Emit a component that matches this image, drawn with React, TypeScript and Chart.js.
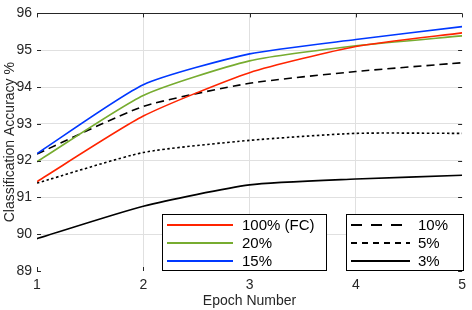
import React, { useEffect, useRef } from "react";
import { Chart, registerables } from "chart.js";

Chart.register(...registerables);

const epochs = [1, 2, 3, 4, 5];
const fc100 = [91.43, 93.21, 94.39, 95.1, 95.47];
const p20 = [91.97, 93.77, 94.71, 95.12, 95.39];
const p15 = [92.19, 94.06, 94.9, 95.29, 95.64];
const p10 = [92.18, 93.47, 94.1, 94.42, 94.66];
const p5 = [91.39, 92.22, 92.55, 92.74, 92.74];
const p3 = [89.88, 90.76, 91.34, 91.5, 91.6];
const yTicks = [89, 90, 91, 92, 93, 94, 95, 96];
const xTicks = [1, 2, 3, 4, 5];

const FONT = "'Liberation Sans', Arial, Helvetica, sans-serif";
const TXT = "#262626";

type Ser = { label: string; data: number[]; color: string; dash: number[]; legendDash: number[] };
const series: Ser[] = [
  { label: "100% (FC)", data: fc100, color: "#ff2400", dash: [], legendDash: [] },
  { label: "20%", data: p20, color: "#77ac30", dash: [], legendDash: [] },
  { label: "15%", data: p15, color: "#0038ff", dash: [], legendDash: [] },
  { label: "10%", data: p10, color: "#000000", dash: [8, 5], legendDash: [11, 9] },
  { label: "5%", data: p5, color: "#000000", dash: [2.5, 2.5], legendDash: [6, 5] },
  { label: "3%", data: p3, color: "#000000", dash: [], legendDash: [] },
];

const decorPlugin = {
  id: "decor",
  afterDraw(chart: any) {
    const ctx = chart.ctx as CanvasRenderingContext2D;
    const a = chart.chartArea;
    const xs = chart.scales.x;
    const ys = chart.scales.y;
    ctx.save();
    ctx.strokeStyle = TXT;
    ctx.lineWidth = 1;
    ctx.setLineDash([]);
    ctx.beginPath();
    ctx.moveTo(a.left, Math.round(a.top) + 0.5);
    ctx.lineTo(a.right, Math.round(a.top) + 0.5);
    ctx.stroke();
    const tl = 4;
    ctx.beginPath();
    xTicks.forEach((v) => {
      const px = Math.round(xs.getPixelForValue(v)) + 0.5;
      ctx.moveTo(px, a.top);
      ctx.lineTo(px, a.top + tl);
      ctx.moveTo(px, a.bottom);
      ctx.lineTo(px, a.bottom - tl);
    });
    yTicks.forEach((v) => {
      const py = Math.round(ys.getPixelForValue(v)) + 0.5;
      ctx.moveTo(a.left, py);
      ctx.lineTo(a.left + tl, py);
      ctx.moveTo(a.right, py);
      ctx.lineTo(a.right - tl, py);
    });
    ctx.stroke();

    const boxes = [
      { x0: a.left + 125, x1: a.left + 289, lx0: a.left + 130, lx1: a.left + 196, tx: a.left + 205, items: series.slice(0, 3) },
      { x0: a.left + 309, x1: a.left + 426, lx0: a.left + 314, lx1: a.left + 373, tx: a.left + 381, items: series.slice(3, 6) },
    ];
    const bTop = a.bottom - 57;
    boxes.forEach((b) => {
      ctx.fillStyle = "#ffffff";
      ctx.fillRect(b.x0, bTop, b.x1 - b.x0, a.bottom - bTop);
      ctx.strokeStyle = "#000000";
      ctx.lineWidth = 1;
      ctx.setLineDash([]);
      ctx.strokeRect(Math.round(b.x0) + 0.5, Math.round(bTop) + 0.5, b.x1 - b.x0, a.bottom - bTop - 1);
      b.items.forEach((s, i) => {
        const y = bTop + 11 + i * 18;
        ctx.strokeStyle = s.color;
        ctx.lineWidth = 2;
        ctx.setLineDash(s.legendDash);
        ctx.beginPath();
        ctx.moveTo(b.lx0, y);
        ctx.lineTo(b.lx1, y);
        ctx.stroke();
        ctx.setLineDash([]);
        ctx.fillStyle = "#000000";
        ctx.font = `15px ${FONT}`;
        ctx.textBaseline = "middle";
        ctx.textAlign = "left";
        ctx.fillText(s.label, b.tx, y + 1);
      });
    });
    ctx.restore();
  },
};

export default function App() {
  const ref = useRef<HTMLCanvasElement>(null);
  useEffect(() => {
    if (!ref.current) return;
    const chart = new Chart(ref.current, {
      type: "line",
      data: {
        datasets: series.map((s) => ({
          label: s.label,
          data: s.data.map((v, i) => ({ x: epochs[i], y: v })),
          borderColor: s.color,
          backgroundColor: s.color,
          borderWidth: 1.6,
          borderDash: s.dash,
          pointRadius: 0,
          tension: 0.2,
          fill: false,
        })),
      },
      options: {
        animation: false,
        responsive: true,
        maintainAspectRatio: false,
        layout: { padding: { top: 8, right: 4, left: 2, bottom: 0 } },
        plugins: { legend: { display: false }, tooltip: { enabled: false } },
        scales: {
          x: {
            type: "linear",
            min: 1,
            max: 5,
            afterFit: (s: any) => { s.height = 39; },
            afterBuildTicks: (s: any) => { s.ticks = xTicks.map((v) => ({ value: v })); },
            border: { display: false },
            grid: {
              drawTicks: false,
              color: (c: any) => (c.tick && (c.tick.value === 1 || c.tick.value === 5) ? "rgba(0,0,0,0)" : "#e0e0e0"),
            },
            ticks: { color: TXT, font: { family: FONT, size: 14 }, padding: 6, maxRotation: 0 },
            title: { display: true, text: "Epoch Number", color: TXT, font: { family: FONT, size: 14 }, padding: { top: 0, bottom: 0 } },
          },
          y: {
            min: 89,
            max: 96,
            afterFit: (s: any) => { s.width = 35; },
            afterBuildTicks: (s: any) => { s.ticks = yTicks.map((v) => ({ value: v })); },
            border: { display: false },
            grid: {
              drawTicks: false,
              color: (c: any) => (c.tick && (c.tick.value === 89 || c.tick.value === 96) ? "rgba(0,0,0,0)" : "#e0e0e0"),
            },
            ticks: { color: TXT, font: { family: FONT, size: 14 }, padding: 5 },
            title: { display: true, text: "Classification Accuracy %", color: TXT, font: { family: FONT, size: 14 }, padding: { top: 0, bottom: 0 } },
          },
        },
      },
      plugins: [decorPlugin],
    });
    return () => chart.destroy();
  }, []);
  return (
    <div style={{ position: "fixed", left: 0, top: 0, width: 472, height: 310, background: "#fff" }}>
      <canvas ref={ref} />
    </div>
  );
}
